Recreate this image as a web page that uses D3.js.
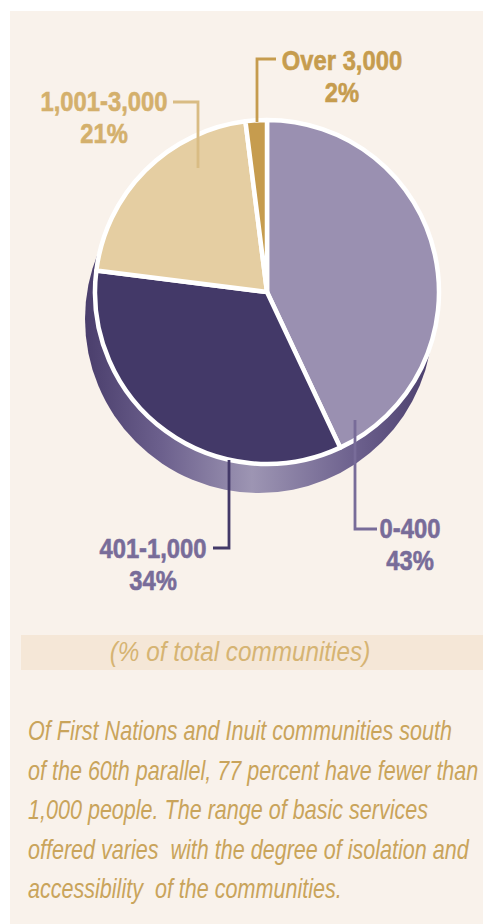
<!DOCTYPE html>
<html>
<head>
<meta charset="utf-8">
<script src="https://cdn.jsdelivr.net/npm/d3@7"></script>
<style>
  body { margin: 0; background: #ffffff; }
  svg { display: block; }
</style>
</head>
<body>
<div class="pieChart"></div>
<script>
// data
const categories = ["0-400", "401-1,000", "1,001-3,000", "Over 3,000"];
const shares = [43, 34, 21, 2];
const captionText = "(% of total communities)";
const noteLines = [
  "Of First Nations and Inuit communities south",
  "of the 60th parallel, 77 percent have fewer than",
  "1,000 people. The range of basic services",
  "offered varies  with the degree of isolation and",
  "accessibility  of the communities."
];

// styles
const sliceColors = ["#9a90b1", "#433968", "#e5cea2", "#c69c4e"];
const labelColors = ["#786c99", "#786c99", "#d4b06c", "#c69c4e"];
const leaderColors = ["#786c99", "#433968", "#d9bc84", "#c69c4e"];

// label layout: text centre / first baseline, leader polyline
const labelLayout = [
  { x: 410, y: 538, leader: [[355, 420], [355, 529], [377, 529]] },
  { x: 153, y: 558, leader: [[229, 460], [229, 548], [213, 548]] },
  { x: 104, y: 111, leader: [[198, 168], [198, 102], [173, 102]] },
  { x: 342, y: 70,  leader: [[257, 122], [257, 59], [276, 59]] }
];

const width = 483, height = 924;
const cx = 267, cy = 292, radius = 172;
const font = "'Liberation Sans', Arial, sans-serif";

const svg = d3.select(".pieChart")
  .append("svg")
  .attr("width", width)
  .attr("height", height);

// condensed look: squeeze text horizontally around its anchor
function squeezed(sel, x, y, sx) {
  return sel.append("text")
    .attr("transform", `translate(${x},${y}) scale(${sx},1)`)
    .attr("font-family", font);
}

// panel background
svg.append("rect")
  .attr("x", 10).attr("y", 11)
  .attr("width", width - 10).attr("height", height - 11)
  .attr("fill", "#f9f2eb");

// shading for the side of the disc
const defs = svg.append("defs");
const grad = defs.append("linearGradient")
  .attr("id", "sideGrad")
  .attr("gradientUnits", "userSpaceOnUse")
  .attr("x1", 85).attr("x2", 433).attr("y1", 0).attr("y2", 0);
[[0, "#4a3e6c"], [0.22, "#6c608d"], [0.48, "#9d95b3"], [0.78, "#6c608d"], [1, "#4a3e6c"]]
  .forEach(s => grad.append("stop").attr("offset", s[0]).attr("stop-color", s[1]));

svg.append("circle")
  .attr("cx", cx - 8)
  .attr("cy", cy + 27)
  .attr("r", radius + 2)
  .attr("fill", "url(#sideGrad)");

const pie = d3.pie().sort(null).value(d => d);
const arc = d3.arc().innerRadius(0).outerRadius(radius);
const arcs = pie(shares);

const g = svg.append("g").attr("transform", `translate(${cx},${cy})`);

g.selectAll("path")
  .data(arcs)
  .enter()
  .append("path")
  .attr("d", arc)
  .attr("fill", (d, i) => sliceColors[i])
  .attr("stroke", "#ffffff")
  .attr("stroke-width", 4.5)
  .attr("stroke-linejoin", "round");

// leaders
const line = d3.line();
svg.selectAll("path.leader")
  .data(labelLayout)
  .enter()
  .append("path")
  .attr("class", "leader")
  .attr("d", d => line(d.leader))
  .attr("fill", "none")
  .attr("stroke", (d, i) => leaderColors[i])
  .attr("stroke-width", 2.8);

// labels
arcs.forEach((d, i) => {
  const L = labelLayout[i];
  const t = squeezed(svg, L.x, L.y, 0.85)
    .attr("text-anchor", "middle")
    .attr("font-weight", "bold")
    .attr("font-size", 28)
    .attr("fill", labelColors[i])
    .attr("stroke", labelColors[i])
    .attr("stroke-width", 0.6);
  t.append("tspan").attr("x", 0).attr("y", 0).text(categories[i]);
  t.append("tspan").attr("x", 0).attr("y", 32).text(d.data + "%");
});

// caption band
svg.append("rect")
  .attr("x", 21).attr("y", 635)
  .attr("width", width - 21).attr("height", 35)
  .attr("fill", "#f5e7d7");

squeezed(svg, 240, 661, 0.9)
  .attr("text-anchor", "middle")
  .attr("font-style", "italic")
  .attr("font-size", 27)
  .attr("fill", "#d6b473")
  .text(captionText);

// note
noteLines.forEach((txt, i) => {
  squeezed(svg, 28, 740 + i * 39.5, 0.77)
    .attr("font-style", "italic")
    .attr("font-size", 28)
    .attr("fill", "#c9a45b")
    .style("white-space", "pre")
    .text(txt);
});
</script>
</body>
</html>
